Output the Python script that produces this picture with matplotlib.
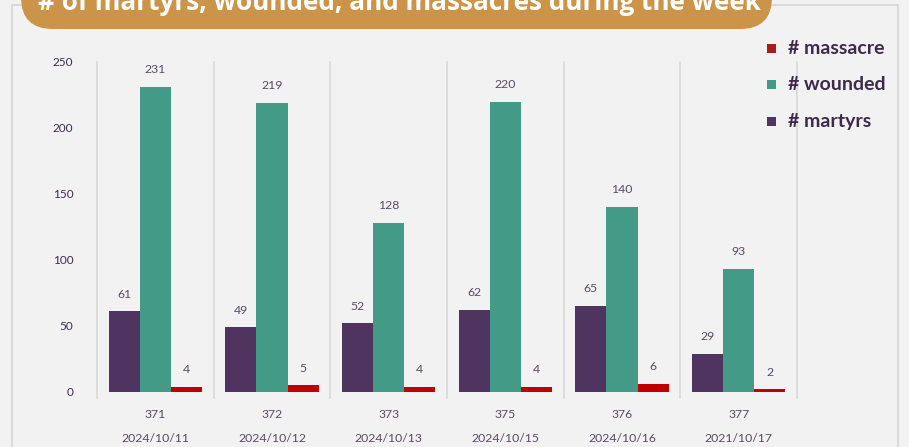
import matplotlib.pyplot as plt
import matplotlib.transforms as mtransforms
from matplotlib.patches import FancyBboxPatch, Rectangle
import numpy as np

# data
days = ['2024/10/11', '2024/10/12', '2024/10/13', '2024/10/15', '2024/10/16', '2021/10/17']
day_numbers = ['371', '372', '373', '375', '376', '377']
martyrs = [61, 49, 52, 62, 65, 29]
wounded = [231, 219, 128, 220, 140, 93]
massacres = [4, 5, 4, 4, 6, 2]

c_martyrs = '#4f3460'
c_wounded = '#439b87'
c_massacre = '#c00000'
c_text = '#5a4a63'
bg = '#f2f2f2'

W, H = 909, 447
fig = plt.figure(figsize=(W / 100, H / 100), dpi=100, facecolor=bg)


def fx(px):
    return px / W


def fy(py):
    return 1 - py / H


# outer panel frame
fig.patches.append(Rectangle((fx(12), fy(460)), fx(898) - fx(12), fy(5) - fy(460),
                             transform=fig.transFigure, facecolor='none',
                             edgecolor='#d6d6d6', lw=1.2))

# title banner (top is cut off in the reference)
fig.patches.append(FancyBboxPatch((fx(21), fy(29)), fx(772) - fx(21), fy(-40) - fy(29),
                                  boxstyle='round,pad=0,rounding_size=0.035',
                                  transform=fig.transFigure, facecolor='#cc9449',
                                  edgecolor='none', mutation_aspect=W / H))
fig.text(fx(399), fy(9.5), '# of martyrs, wounded, and massacres during the week',
         ha='center', va='baseline', color='white', fontsize=18.8,
         fontweight='bold', family='Open Sans')

ax = fig.add_axes([fx(97), fy(392), fx(797) - fx(97), fy(62) - fy(392)])
ax.set_facecolor(bg)
ax.patch.set_alpha(0)

x = np.arange(len(days))
bw = 0.8 / 3
series = [(martyrs, c_martyrs, -bw), (wounded, c_wounded, 0), (massacres, c_massacre, bw)]
for vals, col, off in series:
    ax.bar(x + off, vals, width=bw, color=col, edgecolor='none')
    for xi, v in zip(x, vals):
        ax.annotate(str(v), (xi + off, v), xytext=(0, 8.5), textcoords='offset points',
                    ha='center', va='bottom', fontsize=8.8, color=c_text, family='Lato')

ax.set_xlim(-0.5, len(days) - 0.5)
ax.set_ylim(0, 250)
for s in ax.spines.values():
    s.set_visible(False)

# category separators
for b in np.arange(len(days) + 1) - 0.5:
    ax.plot([b, b], [-4.5, 250], color='#d9d9d9', lw=1.2, clip_on=False)

ax.set_yticks([0, 50, 100, 150, 200, 250])
ax.tick_params(axis='y', length=0, pad=17, labelsize=8.5, labelcolor='#3d2a4a')
for lbl in ax.get_yticklabels():
    lbl.set_family('Lato')
ax.set_xticks([])

trans = mtransforms.blended_transform_factory(ax.transData, fig.transFigure)
for xi, n, d in zip(x, day_numbers, days):
    ax.text(xi, fy(414), n, transform=trans, ha='center', va='center',
            fontsize=8.8, color=c_text, family='Lato')
    ax.text(xi, fy(438), d, transform=trans, ha='center', va='center',
            fontsize=8.8, color=c_text, family='Lato')

# legend
legend_items = [('# massacre', '#a81c1c', 48), ('# wounded', c_wounded, 84), ('# martyrs', c_martyrs, 121)]
for label, col, py in legend_items:
    fig.patches.append(Rectangle((fx(767), fy(py + 4.5)), fx(9), fy(0) - fy(9),
                                 transform=fig.transFigure, facecolor=col, edgecolor='none'))
    fig.text(fx(788), fy(py), label, ha='left', va='center', fontsize=14,
             fontweight='bold', color='#3d2a4a', family='Lato')

fig.savefig('out.png', dpi=100, facecolor=bg)
